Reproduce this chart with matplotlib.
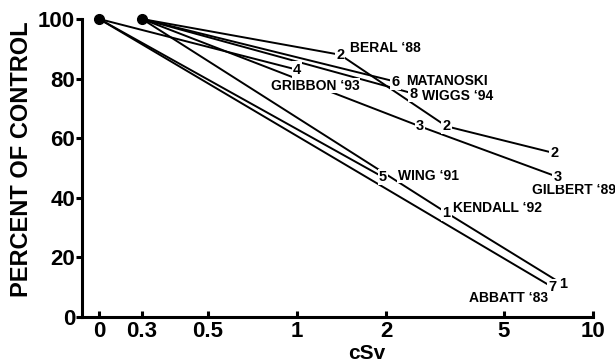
import matplotlib
matplotlib.use('Agg')
import matplotlib.pyplot as plt

plt.rcParams['font.family'] = ['Liberation Sans', 'DejaVu Sans']
plt.rcParams['font.weight'] = 'bold'

# where a dose of 0 sits on the log axis
ZERO = 0.215

# study curves: dose in cSv, percent of control
kendall_x = [0.3, 3.2, 7.9]
kendall_y = [100, 35, 11]
beral_x = [0.3, 1.4, 3.2, 7.4]
beral_y = [100, 88, 64, 55]
gilbert_x = [0.3, 2.6, 7.6]
gilbert_y = [100, 64, 47]
gribbon_x = [0, 1.0]
gribbon_y = [100, 83]
wing_x = [0, 1.95]
wing_y = [100, 47]
matanoski_x = [0.3, 2.15]
matanoski_y = [100, 79]
abbatt_x = [0, 7.3]
abbatt_y = [100, 10]
wiggs_x = [0.3, 2.47]
wiggs_y = [100, 75]

studies = [
    ("1", kendall_x, kendall_y),
    ("2", beral_x, beral_y),
    ("3", gilbert_x, gilbert_y),
    ("4", gribbon_x, gribbon_y),
    ("5", wing_x, wing_y),
    ("6", matanoski_x, matanoski_y),
    ("7", abbatt_x, abbatt_y),
    ("8", wiggs_x, wiggs_y),
]

start_x = [0, 0.3]
start_y = [100, 100]

tick_vals = [0, 0.3, 0.5, 1, 2, 5, 10]
tick_labels = ['0', '0.3', '0.5', '1', '2', '5', '10']

def pos(d):
    return ZERO if d == 0 else d

fig = plt.figure(figsize=(6.15, 3.64), dpi=100)
ax = fig.add_axes([0.1333, 0.1291, 0.8309, 0.8187])
ax.set_xscale('log')

for num, xs, ys in studies:
    px = [pos(v) for v in xs]
    ax.plot(px, ys, color='black', lw=1.4, zorder=2, clip_on=False)
    for x, y in zip(px[1:], ys[1:]):
        ax.text(x, y, num, fontsize=10.5, ha='center', va='center', zorder=4,
                bbox=dict(fc='white', ec='none', pad=0.8))

ax.plot([pos(v) for v in start_x], start_y, 'o', color='black', ms=7,
        zorder=5, clip_on=False)

# study names
names = [
    ("BERAL \u201888", 1.51, 90.3, 'left'),
    ("GRIBBON \u201893", 0.82, 77.6, 'left'),
    ("MATANOSKI", 2.33, 79.3, 'left'),
    ("WIGGS \u201894", 2.64, 74.3, 'left'),
    ("GILBERT \u201889", 6.2, 42.6, 'left'),
    ("WING \u201891", 2.19, 47.3, 'left'),
    ("KENDALL \u201892", 3.37, 36.6, 'left'),
    ("ABBATT \u201883", 7.05, 6.4, 'right'),
]
for txt, x, y, ha in names:
    ax.text(x, y, txt, fontsize=10, ha=ha, va='center', zorder=3,
            bbox=dict(fc='white', ec='none', pad=0.2))

ax.set_xlim(0.188, 10)
ax.set_ylim(0, 100)
ax.set_xticks([pos(v) for v in tick_vals])
ax.set_xticklabels(tick_labels)
ax.xaxis.set_minor_locator(plt.NullLocator())
ax.set_yticks([0, 20, 40, 60, 80, 100])

for s in ['top', 'right']:
    ax.spines[s].set_visible(False)
for s in ['left', 'bottom']:
    ax.spines[s].set_linewidth(2.2)

ax.tick_params(axis='x', direction='in', length=4, width=2.2, labelsize=16, pad=3)
ax.tick_params(axis='y', direction='out', length=4, width=2.2, labelsize=16, pad=1)
for lab in ax.get_xticklabels() + ax.get_yticklabels():
    lab.set_fontweight('bold')

ax.set_ylabel('PERCENT OF CONTROL', fontsize=17, fontweight='bold', labelpad=4)
ax.yaxis.set_label_coords(-0.095, 0.53)
fig.text(0.597, 0.03, 'cSv', fontsize=15, fontweight='bold', ha='center', va='center')

fig.savefig('out.png', dpi=100)
